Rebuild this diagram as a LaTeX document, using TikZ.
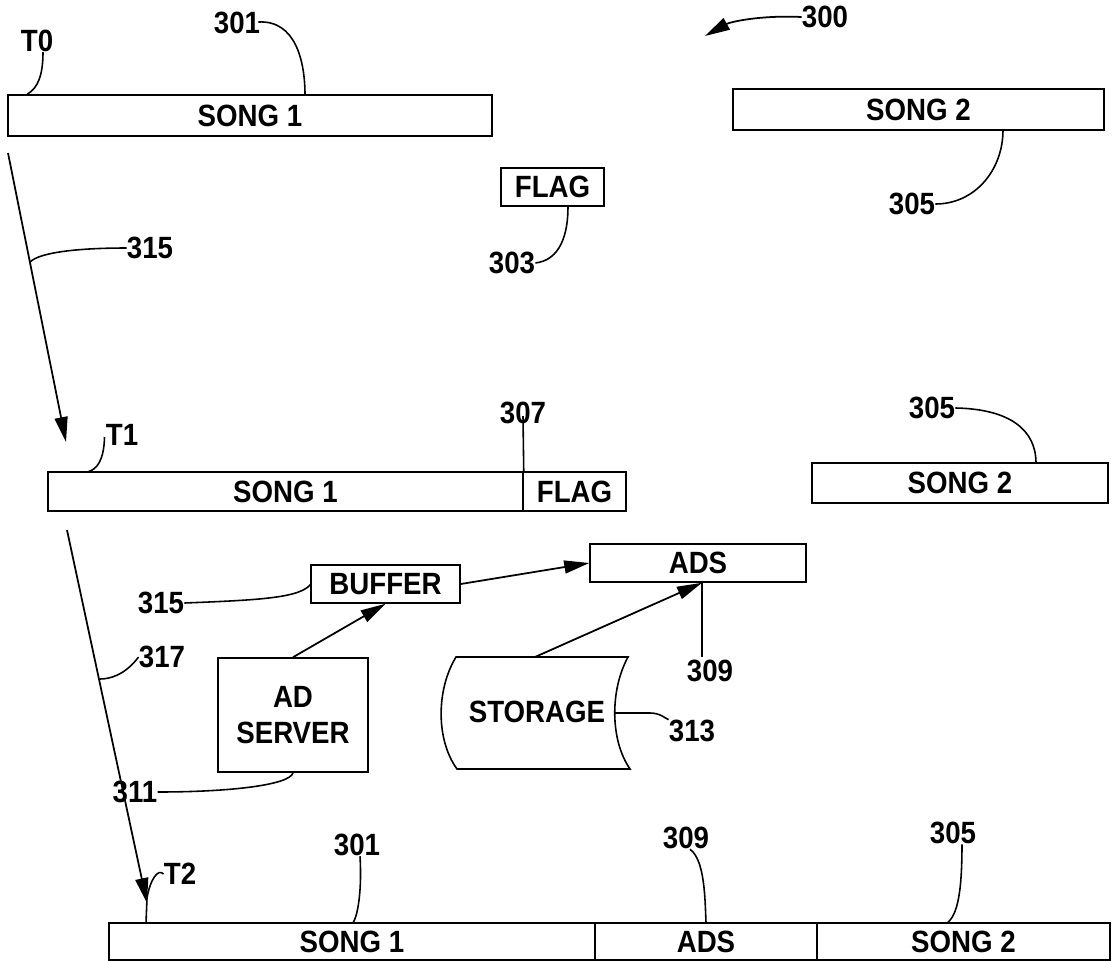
\documentclass[tikz,border=0pt]{standalone}
\usepackage{fontspec}
\setmainfont{Liberation Sans}[FakeStretch=0.9]
\usetikzlibrary{arrows.meta,calc}

\begin{document}
\begin{tikzpicture}[x=0.02cm,y=-0.02cm,font=\fontsize{17.5}{20}\selectfont\bfseries,
  bar/.style={draw,line width=0.9pt,minimum height=0.8cm,inner sep=0pt},
  lbl/.style={inner sep=0pt},
  lead/.style={line width=0.9pt},
  arr/.style={line width=1pt,-{Triangle[length=0.5cm,width=0.26cm]}}]
  \useasboundingbox (0,0) rectangle (1117,961);
  % time T0
  \node[bar,minimum width=9.68cm,minimum height=0.82cm] (s1a) at (250,115.5) {SONG 1};
  \node[bar,minimum width=7.42cm,minimum height=0.82cm] (s2a) at (918.5,109.5) {SONG 2};
  \node[bar,minimum width=2.06cm,minimum height=0.76cm] (flaga) at (552.5,187) {FLAG};
  \node[lbl] (t0) at (37,41) {T0};
  \node[lbl] (n301a) at (237,23) {301};
  \node[lbl] (n300) at (825,17) {300};
  \node[lbl] (n305a) at (912,204) {305};
  \node[lbl] (n303) at (512,263) {303};
  \node[lbl] (n315a) at (150,248) {315};
  \draw[lead] ($(t0.south)+(6,0)$) .. controls (43,75) and (38,88) .. ($(s1a.north west)+(20,0)$);
  \draw[lead] ($(n301a.east)+(-2,-1)$) .. controls (295,20) and (305,60) .. (305,95);
  \draw[arr] (n300.west) .. controls (760,15) and (730,22) .. (705,36);
  \draw[lead] (n305a.east) .. controls (975,204) and (1003,170) .. (1003,130);
  \draw[lead] (n303.east) .. controls (560,260) and (568,235) .. (flaga.south -| 568,0);
  % T0 -> T1
  \coordinate (a1s) at (8,153);
  \coordinate (a1e) at (66,442);
  \draw[arr] (a1s) -- (a1e);
  \draw[lead] (30,262) .. controls (40,252) and (80,248) .. (n315a.west);
  % time T1
  \node[bar,minimum width=9.5cm,minimum height=0.78cm] (s1b) at (285.5,491.5) {SONG 1};
  \node[bar,minimum width=2.06cm,minimum height=0.78cm] (flagb) at (574.5,491.5) {FLAG};
  \node[bar,minimum width=5.92cm] (s2b) at (960,483) {SONG 2};
  \node[lbl] (t1) at (122,435) {T1};
  \node[lbl] (n307) at (523,413) {307};
  \node[lbl] (n305b) at (932,408) {305};
  \draw[lead] ($(t1.west)+(-1,2)$) .. controls (104,460) and (97,470) .. (87,472);
  \draw[lead] ($(n307.center)+(0,3)$) -- (s1b.north east);
  \draw[lead] (n305b.east) .. controls (1010,409) and (1036,430) .. (1036,463);
  % ad insertion
  \node[bar,minimum width=4.32cm,minimum height=0.76cm] (ads) at (698,563) {ADS};
  \node[bar,minimum width=2.98cm,minimum height=0.76cm] (buffer) at (385.5,584) {BUFFER};
  \node[bar,minimum width=3cm,minimum height=2.28cm,align=center] (adserver) at (293,715) {AD\\SERVER};
  \draw[lead] (456,657) .. controls (436,690) and (436,740) .. (457,769) -- (630,769)
    .. controls (610,740) and (610,690) .. (628,657) -- cycle;
  \node[lbl] (storage) at (537,712) {STORAGE};
  \coordinate (sttop) at (535,657);
  \node[lbl] (n315b) at (161,603) {315};
  \node[lbl] (n317) at (162,657) {317};
  \node[lbl] (n311) at (135,792) {311};
  \node[lbl] (n309a) at (710,671) {309};
  \node[lbl] (n313) at (692,731) {313};
  \draw[arr] (buffer.east) -- (ads.west);
  \draw[arr] (adserver.north) -- (buffer.south);
  \draw[arr] (sttop) -- ($(ads.south)+(4,0)$);
  \draw[lead] ($(ads.south)+(4,0)$) -- ++(0,74);
  \draw[lead] (n315b.east) .. controls (260,600) and (300,598) .. (311,584);
  \draw[lead] (615,713) -- (650,713) .. controls (660,713) and (665,718) .. (n313.north west);
  \draw[lead] (n311.east) .. controls (230,792) and (290,785) .. (adserver.south);
  % T1 -> T2
  \coordinate (a2s) at (67,530);
  \coordinate (a2e) at (147,903);
  \draw[arr] (a2s) -- (a2e);
  \draw[lead] (n317.west) .. controls (125,675) and (110,679) .. (100,679);
  % time T2
  \node[bar,minimum width=9.72cm,minimum height=0.74cm] (s1c) at (352,941.5) {SONG 1};
  \node[bar,minimum width=4.44cm,minimum height=0.74cm] (adsc) at (706,941.5) {ADS};
  \node[bar,minimum width=5.86cm,minimum height=0.74cm] (s2c) at (963.5,941.5) {SONG 2};
  \node[lbl] (t2) at (180,874) {T2};
  \node[lbl] (n301b) at (357,845) {301};
  \node[lbl] (n309b) at (686,838) {309};
  \node[lbl] (n305c) at (953,833) {305};
  \draw[lead] (146,923) -- (147,898) .. controls (150,880) and (158,868) .. (t2.west);
  \draw[lead] ($(n301b.south)+(3,0)$) .. controls (362,890) and (358,915) .. (353,923);
  \draw[lead] ($(n309b.south)+(4,0)$) .. controls (705,860) and (705,900) .. (adsc.north);
  \draw[lead] ($(n305c.south)+(9,0)$) .. controls (962,890) and (958,915) .. (947,923);
\end{tikzpicture}
\end{document}
